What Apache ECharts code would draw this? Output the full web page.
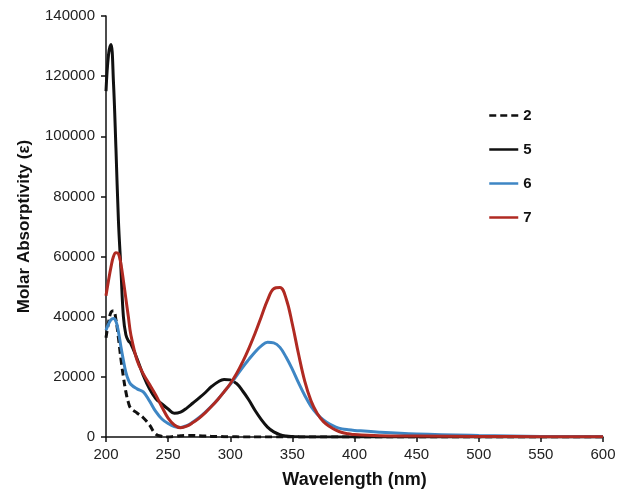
<!DOCTYPE html>
<html>
<head>
<meta charset="utf-8">
<script src="https://cdn.jsdelivr.net/npm/echarts@6/dist/echarts.min.js"></script>
<style>
html,body{margin:0;padding:0;background:#fff;}
#chart{width:621px;height:494px;}
</style>
</head>
<body>
<div id="chart"></div>
<script>
var wavelengths = [200,202,204,206,208,210,212,214,216,218,220,225,230,235,240,245,250,255,260,265,270,275,280,285,290,295,300,305,310,315,320,325,330,335,340,345,350,355,360,365,370,375,380,385,390,395,400,420,450,500,550,600];

var series2 = [33000,38000,41500,42000,39000,33000,26000,20000,15000,11500,9500,8000,6400,4000,1000,200,0,200,400,500,500,400,300,200,200,100,100,50,0,0,0,0,0,0,0,0,0,0,0,0,0,0,0,0,0,0,0,0,0,0,0,0];
var series5 = [115000,127000,130500,118000,96000,72000,56000,40000,34000,32000,31000,26000,20500,16000,12800,11000,9300,7900,8300,9600,11300,13000,14800,16800,18300,19100,19000,17800,15300,12300,8800,5800,3300,1700,800,350,150,50,0,0,0,0,0,0,0,0,0,0,0,0,0,0];
var series6 = [35500,37500,39000,39400,38500,35000,30000,25500,21500,19000,17500,16000,15000,12000,8500,6000,4500,3500,3200,3800,5000,6500,8300,10300,12500,15000,17500,20300,23200,25800,28300,30300,31500,31300,29800,26500,22500,18000,13800,10200,7600,5700,4300,3300,2700,2400,2200,1600,1000,500,200,100];
var series7 = [47000,52000,56500,60000,61300,61000,57500,52000,46000,40000,34000,25500,21000,17500,14000,10000,6300,4000,3100,3600,4800,6300,8100,10200,12500,15000,17700,21000,25000,29500,34500,40000,45500,49300,49700,46000,37500,27500,18500,12000,7800,5100,3500,2300,1500,1100,800,400,300,200,100,100];

var seriesNames = ['2','5','6','7'];
var xTicks = [200,250,300,350,400,450,500,550,600];
var yTicks = [0,20000,40000,60000,80000,100000,120000,140000];

function pairs(vals){ return wavelengths.map(function(w,i){ return [w, vals[i]]; }); }

var chart = echarts.init(document.getElementById('chart'), null, {renderer:'canvas'});
var font = 'Liberation Sans, Arial, Helvetica, sans-serif';
function mk(name, vals, color, type){
  return {
    name: name, type: 'line', data: pairs(vals), showSymbol: false, symbol: 'none',
    smooth: 0.4,
    lineStyle: {color: color, width: 3, type: type},
    itemStyle: {color: color},
    animation: false
  };
}
chart.setOption({
  backgroundColor: '#ffffff',
  animation: false,
  grid: {left: 106, right: 18, top: 16, bottom: 53},
  legend: {
    orient: 'vertical', left: 483, top: 103, itemWidth: 29, itemHeight: 14, itemGap: 19,
    data: seriesNames,
    itemStyle: {opacity: 0},
    lineStyle: {width: 2.5},
    textStyle: {fontFamily: font, fontSize: 15, fontWeight: 'bold', color: '#111'}
  },
  xAxis: {
    type: 'value', min: xTicks[0], max: xTicks[xTicks.length-1], interval: 50,
    name: 'Wavelength (nm)', nameLocation: 'middle', nameGap: 34,
    nameTextStyle: {fontFamily: font, fontSize: 18, fontWeight: 'bold', color: '#111'},
    axisLine: {lineStyle: {color: '#111', width: 1.5}},
    axisTick: {show: true, length: 5, lineStyle: {color: '#111', width: 1.5}},
    axisLabel: {fontFamily: font, fontSize: 15, color: '#222', margin: 10, formatter: function(v){ return String(v); }},
    splitLine: {show: false}
  },
  yAxis: {
    type: 'value', min: yTicks[0], max: yTicks[yTicks.length-1], interval: 20000,
    name: 'Molar Absorptivity (ε)', nameLocation: 'middle', nameGap: 73,
    nameTextStyle: {fontFamily: font, fontSize: 17, fontWeight: 'bold', color: '#111'},
    axisLine: {show: true, lineStyle: {color: '#111', width: 1.5}},
    axisTick: {show: true, length: 5, lineStyle: {color: '#111', width: 1.5}},
    axisLabel: {fontFamily: font, fontSize: 15, color: '#222', margin: 11, formatter: function(v){ return String(v); }},
    splitLine: {show: false}
  },
  series: [
    mk('2', series2, '#111111', [7,4]),
    mk('5', series5, '#111111', 'solid'),
    mk('6', series6, '#3e86c4', 'solid'),
    mk('7', series7, '#b02a22', 'solid')
  ]
});
</script>
</body>
</html>
